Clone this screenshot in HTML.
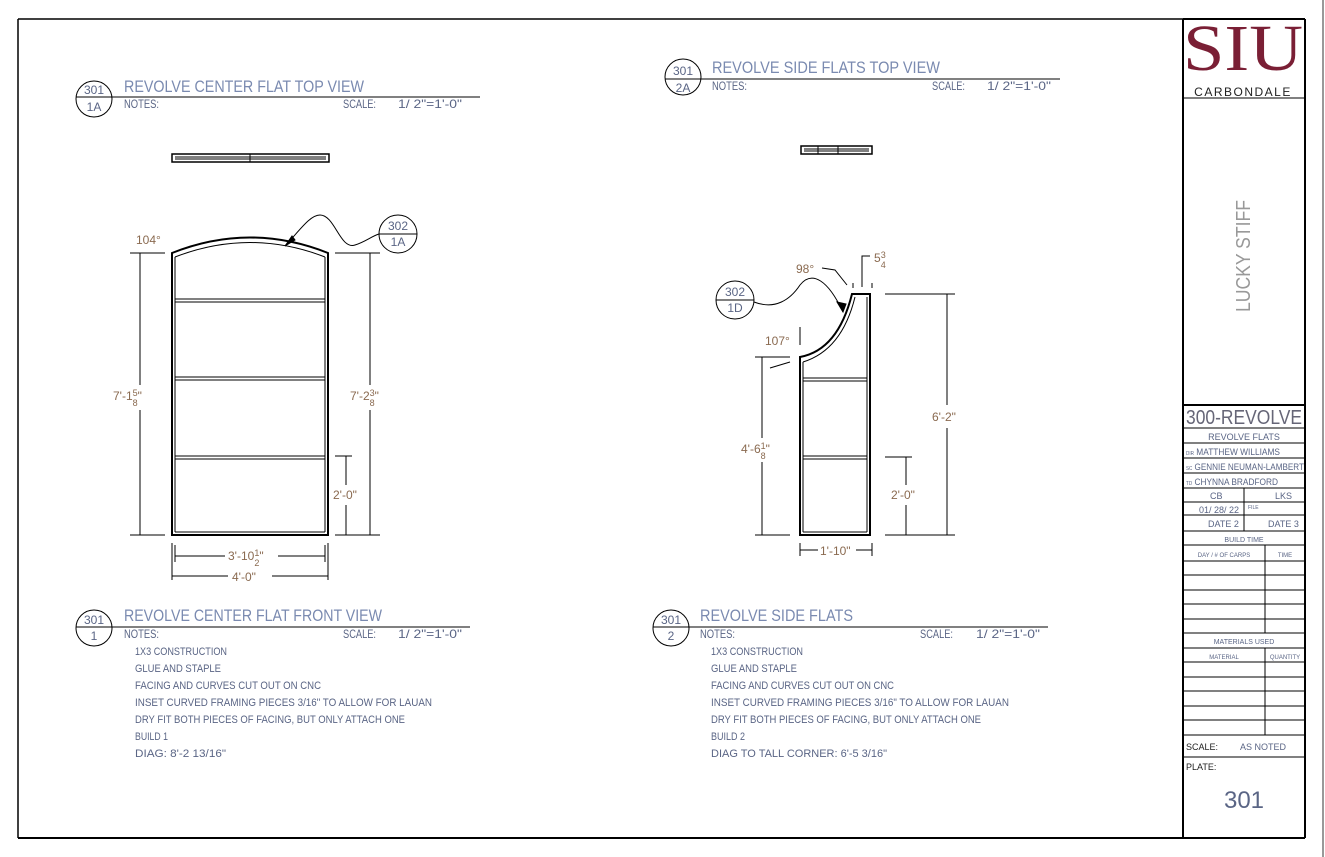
<!DOCTYPE html>
<html><head><meta charset="utf-8"><style>
html,body{margin:0;padding:0;background:#fff;width:1325px;height:857px;overflow:hidden}
svg{display:block}
.t{font-family:"Liberation Sans",sans-serif;fill:#5a6585}
.d{font-family:"Liberation Sans",sans-serif;fill:#8a6a50}
.k{font-family:"Liberation Sans",sans-serif;fill:#222}
</style></head><body>
<svg width="1325" height="857" viewBox="0 0 1325 857">
<g fill="none" stroke="#000">
<line x1="18" y1="19" x2="1183" y2="19" stroke-width="1.5"/>
<line x1="18" y1="19" x2="18" y2="838" stroke-width="1.5"/>
<line x1="18" y1="838" x2="1305" y2="838" stroke-width="2"/>
<line x1="1183" y1="19" x2="1183" y2="838" stroke-width="2"/>
<line x1="1305" y1="19" x2="1305" y2="838" stroke-width="2"/>
<line x1="1183" y1="19" x2="1305" y2="19" stroke-width="2"/>
<line x1="1323" y1="0" x2="1323" y2="857" stroke="#999" stroke-width="2"/>
<line x1="1183" y1="98" x2="1305" y2="98" stroke-width="1"/>
<line x1="1183" y1="405" x2="1305" y2="405" stroke-width="2"/>
</g>
<rect x="1184" y="20" width="120" height="77" fill="#fff"/>
<text x="1183" y="70" textLength="120" lengthAdjust="spacingAndGlyphs" style="font-family:'Liberation Serif',serif;font-size:66px;fill:#7a1f35">SIU</text>
<text x="1243" y="96" text-anchor="middle" class="k" style="font-size:12px;letter-spacing:1.5px">CARBONDALE</text>
<text transform="translate(1250,312) rotate(-90)" class="t" textLength="112" lengthAdjust="spacingAndGlyphs" style="font-size:20px;fill:#999">LUCKY STIFF</text>
<g stroke="#000" stroke-width="1" fill="none">
<line x1="1183" y1="428" x2="1305" y2="428"/>
<line x1="1183" y1="443" x2="1305" y2="443"/>
<line x1="1183" y1="458" x2="1305" y2="458"/>
<line x1="1183" y1="473" x2="1305" y2="473"/>
<line x1="1183" y1="488" x2="1305" y2="488"/>
<line x1="1183" y1="502" x2="1305" y2="502"/>
<line x1="1183" y1="515" x2="1305" y2="515"/>
<line x1="1183" y1="531" x2="1305" y2="531"/>
<line x1="1183" y1="545" x2="1305" y2="545"/>
<line x1="1183" y1="561" x2="1305" y2="561"/>
<line x1="1183" y1="575" x2="1305" y2="575"/>
<line x1="1183" y1="590" x2="1305" y2="590"/>
<line x1="1183" y1="604" x2="1305" y2="604"/>
<line x1="1183" y1="619" x2="1305" y2="619"/>
<line x1="1183" y1="633" x2="1305" y2="633"/>
<line x1="1183" y1="648" x2="1305" y2="648"/>
<line x1="1183" y1="662" x2="1305" y2="662"/>
<line x1="1183" y1="677" x2="1305" y2="677"/>
<line x1="1183" y1="691" x2="1305" y2="691"/>
<line x1="1183" y1="706" x2="1305" y2="706"/>
<line x1="1183" y1="720" x2="1305" y2="720"/>
<line x1="1183" y1="735" x2="1305" y2="735"/>
<line x1="1183" y1="757" x2="1305" y2="757"/>
<line x1="1244" y1="488" x2="1244" y2="531"/>
<line x1="1265" y1="545" x2="1265" y2="633"/>
<line x1="1265" y1="648" x2="1265" y2="735"/>
</g>
<g class="t" style="font-size:10px">
<text x="1186" y="424" textLength="116" lengthAdjust="spacingAndGlyphs" style="font-size:20px;fill:#667">300-REVOLVE</text>
<text x="1244" y="440" text-anchor="middle" style="font-size:9px">REVOLVE FLATS</text>
<text x="1186" y="455" textLength="94" lengthAdjust="spacingAndGlyphs" style="font-size:9px"><tspan style="font-size:5px">DIR</tspan> MATTHEW WILLIAMS</text>
<text x="1186" y="470" textLength="118" lengthAdjust="spacingAndGlyphs" style="font-size:9px"><tspan style="font-size:5px">SC</tspan> GENNIE NEUMAN-LAMBERT</text>
<text x="1186" y="485" textLength="92" lengthAdjust="spacingAndGlyphs" style="font-size:9px"><tspan style="font-size:5px">TD</tspan> CHYNNA BRADFORD</text>
<text x="1210" y="499" style="font-size:9px">CB</text><text x="1275" y="499" style="font-size:9px">LKS</text>
<text x="1199" y="513" style="font-size:9px">01/ 28/ 22</text><text x="1248" y="509" style="font-size:5px">FILE</text>
<text x="1208" y="527" style="font-size:9px">DATE 2</text><text x="1268" y="527" style="font-size:9px">DATE 3</text>
<text x="1244" y="542" text-anchor="middle" style="font-size:7px">BUILD TIME</text>
<text x="1224" y="557" text-anchor="middle" style="font-size:6px">DAY / # OF CARPS</text>
<text x="1285" y="557" text-anchor="middle" style="font-size:6px">TIME</text>
<text x="1244" y="644" text-anchor="middle" style="font-size:7px">MATERIALS USED</text>
<text x="1224" y="659" text-anchor="middle" style="font-size:6px">MATERIAL</text>
<text x="1285" y="659" text-anchor="middle" style="font-size:6px">QUANTITY</text>
<text x="1186" y="750" class="k" style="font-size:9px">SCALE:</text>
<text x="1240" y="750" style="font-size:9px">AS NOTED</text>
<text x="1186" y="770" class="k" style="font-size:9px">PLATE:</text>
<text x="1244" y="808" text-anchor="middle" style="font-size:24px">301</text>
</g>

<g fill="none" stroke="#000" stroke-width="1">
<circle cx="94" cy="99" r="18"/><line x1="76" y1="97" x2="480" y2="97"/>
<circle cx="683" cy="77" r="18"/><line x1="665" y1="79" x2="1060" y2="79"/>
<circle cx="94" cy="628" r="18"/><line x1="76" y1="627" x2="470" y2="627"/>
<circle cx="671" cy="628" r="18"/><line x1="653" y1="627" x2="1048" y2="627"/>
<circle cx="398" cy="234" r="19"/><line x1="379" y1="234" x2="417" y2="234"/>
<circle cx="735" cy="300" r="19"/><line x1="716" y1="300" x2="754" y2="300"/>
</g>
<g class="t" style="font-size:12px">
<text x="94" y="94" text-anchor="middle">301</text><text x="94" y="111" text-anchor="middle">1A</text>
<text x="683" y="75" text-anchor="middle">301</text><text x="683" y="92" text-anchor="middle">2A</text>
<text x="94" y="624" text-anchor="middle">301</text><text x="94" y="640" text-anchor="middle">1</text>
<text x="671" y="624" text-anchor="middle">301</text><text x="671" y="640" text-anchor="middle">2</text>
<text x="398" y="230" text-anchor="middle">302</text><text x="398" y="246" text-anchor="middle">1A</text>
<text x="735" y="296" text-anchor="middle">302</text><text x="735" y="312" text-anchor="middle">1D</text>
<text x="124" y="92" textLength="240" lengthAdjust="spacingAndGlyphs" style="font-size:17px;fill:#7a8ab0">REVOLVE CENTER FLAT TOP VIEW</text>
<text x="124" y="108" textLength="35" lengthAdjust="spacingAndGlyphs">NOTES:</text><text x="343" y="108" textLength="33" lengthAdjust="spacingAndGlyphs">SCALE:</text><text x="398" y="108" textLength="64" lengthAdjust="spacingAndGlyphs">1/ 2"=1'-0"</text>
<text x="712" y="73" textLength="228" lengthAdjust="spacingAndGlyphs" style="font-size:17px;fill:#7a8ab0">REVOLVE SIDE FLATS TOP VIEW</text>
<text x="712" y="90" textLength="35" lengthAdjust="spacingAndGlyphs">NOTES:</text><text x="932" y="90" textLength="33" lengthAdjust="spacingAndGlyphs">SCALE:</text><text x="987" y="90" textLength="64" lengthAdjust="spacingAndGlyphs">1/ 2"=1'-0"</text>
<text x="124" y="621" textLength="258" lengthAdjust="spacingAndGlyphs" style="font-size:17px;fill:#7a8ab0">REVOLVE CENTER FLAT FRONT VIEW</text>
<text x="124" y="638" textLength="35" lengthAdjust="spacingAndGlyphs">NOTES:</text><text x="343" y="638" textLength="33" lengthAdjust="spacingAndGlyphs">SCALE:</text><text x="398" y="638" textLength="64" lengthAdjust="spacingAndGlyphs">1/ 2"=1'-0"</text>
<text x="700" y="621" textLength="153" lengthAdjust="spacingAndGlyphs" style="font-size:17px;fill:#7a8ab0">REVOLVE SIDE FLATS</text>
<text x="700" y="638" textLength="35" lengthAdjust="spacingAndGlyphs">NOTES:</text><text x="920" y="638" textLength="33" lengthAdjust="spacingAndGlyphs">SCALE:</text><text x="976" y="638" textLength="64" lengthAdjust="spacingAndGlyphs">1/ 2"=1'-0"</text>
</g>
<g class="t" style="font-size:11px">
<text x="135" y="655" textLength="92" lengthAdjust="spacingAndGlyphs">1X3 CONSTRUCTION</text><text x="135" y="672" textLength="86" lengthAdjust="spacingAndGlyphs">GLUE AND STAPLE</text>
<text x="135" y="689" textLength="186" lengthAdjust="spacingAndGlyphs">FACING AND CURVES CUT OUT ON CNC</text>
<text x="135" y="706" textLength="297" lengthAdjust="spacingAndGlyphs">INSET CURVED FRAMING PIECES 3/16" TO ALLOW FOR LAUAN</text>
<text x="135" y="723" textLength="270" lengthAdjust="spacingAndGlyphs">DRY FIT BOTH PIECES OF FACING, BUT ONLY ATTACH ONE</text>
<text x="135" y="740" textLength="33" lengthAdjust="spacingAndGlyphs">BUILD 1</text><text x="135" y="757" textLength="91" lengthAdjust="spacingAndGlyphs">DIAG: 8'-2 13/16"</text>
<text x="711" y="655" textLength="92" lengthAdjust="spacingAndGlyphs">1X3 CONSTRUCTION</text><text x="711" y="672" textLength="86" lengthAdjust="spacingAndGlyphs">GLUE AND STAPLE</text>
<text x="711" y="689" textLength="183" lengthAdjust="spacingAndGlyphs">FACING AND CURVES CUT OUT ON CNC</text>
<text x="711" y="706" textLength="298" lengthAdjust="spacingAndGlyphs">INSET CURVED FRAMING PIECES 3/16" TO ALLOW FOR LAUAN</text>
<text x="711" y="723" textLength="270" lengthAdjust="spacingAndGlyphs">DRY FIT BOTH PIECES OF FACING, BUT ONLY ATTACH ONE</text>
<text x="711" y="740" textLength="34" lengthAdjust="spacingAndGlyphs">BUILD 2</text><text x="711" y="757" textLength="176" lengthAdjust="spacingAndGlyphs">DIAG TO TALL CORNER: 6'-5 3/16"</text>
</g>

<g fill="none" stroke="#000" stroke-width="1">
<rect x="172" y="154" width="157" height="8" stroke-width="1.5"/>
<line x1="175" y1="157" x2="326" y2="157"/><line x1="175" y1="159" x2="326" y2="159"/>
<line x1="250" y1="154" x2="250" y2="162"/>
<rect x="801" y="146" width="71" height="8" stroke-width="1.5"/>
<line x1="804" y1="149" x2="869" y2="149"/><line x1="804" y1="151" x2="869" y2="151"/>
<line x1="818" y1="146" x2="818" y2="154"/><line x1="838" y1="146" x2="838" y2="154"/>
</g>

<g fill="none" stroke="#000" stroke-width="1">
<path d="M172 535 V253 Q250 222 328 253 V535 Z" stroke-width="2"/>
<path d="M175 257 Q250 228 325 257"/>
<line x1="175" y1="257" x2="175" y2="532"/><line x1="325" y1="257" x2="325" y2="532"/>
<rect x="175" y="299" width="150" height="3"/><rect x="175" y="377" width="150" height="3"/><rect x="175" y="456" width="150" height="3"/>
<line x1="175" y1="532" x2="325" y2="532"/>
<line x1="130" y1="253" x2="165" y2="253"/><line x1="130" y1="535" x2="165" y2="535"/>
<line x1="140" y1="253" x2="140" y2="385"/><line x1="140" y1="410" x2="140" y2="535"/>
<line x1="335" y1="253" x2="380" y2="253"/><line x1="335" y1="535" x2="380" y2="535"/>
<line x1="370" y1="253" x2="370" y2="385"/><line x1="370" y1="410" x2="370" y2="535"/>
<line x1="335" y1="456" x2="352" y2="456"/><line x1="346" y1="456" x2="346" y2="485"/><line x1="346" y1="505" x2="346" y2="535"/>
<line x1="172" y1="543" x2="172" y2="580"/><line x1="328" y1="543" x2="328" y2="580"/>
<line x1="175" y1="545" x2="175" y2="562"/><line x1="325" y1="545" x2="325" y2="562"/>
<line x1="175" y1="556" x2="225" y2="556"/><line x1="278" y1="556" x2="325" y2="556"/>
<line x1="172" y1="576" x2="228" y2="576"/><line x1="272" y1="576" x2="328" y2="576"/>
<path d="M285 246 C300 230 310 215 320 215 C335 215 340 250 355 245 C365 242 372 236 379 234"/>
<path d="M285 246 L292 236 L295 240 Z" fill="#000"/>
</g>
<g class="d" style="font-size:12px">
<text x="136" y="244">104°</text>
<text x="113" y="400">7'-1<tspan style="font-size:9px" dy="-4">5</tspan><tspan style="font-size:9px" dx="-5" dy="10">8</tspan><tspan dy="-6">"</tspan></text>
<text x="350" y="400">7'-2<tspan style="font-size:9px" dy="-4">3</tspan><tspan style="font-size:9px" dx="-5" dy="10">8</tspan><tspan dy="-6">"</tspan></text>
<text x="333" y="499">2'-0"</text>
<text x="228" y="560">3'-10<tspan style="font-size:9px" dy="-4">1</tspan><tspan style="font-size:9px" dx="-5" dy="10">2</tspan><tspan dy="-6">"</tspan></text>
<text x="232" y="581">4'-0"</text>
</g>

<g fill="none" stroke="#000" stroke-width="1">
<path d="M800 535 V357 Q838 350 852 294 H870 V535 Z" stroke-width="2"/>
<path d="M803 362 Q842 350 855 297"/>
<line x1="803" y1="362" x2="803" y2="532"/><line x1="867" y1="297" x2="867" y2="532"/>
<rect x="803" y="378" width="64" height="3"/><rect x="803" y="456" width="64" height="3"/>
<line x1="803" y1="532" x2="867" y2="532"/>
<line x1="755" y1="357" x2="790" y2="357"/><line x1="755" y1="535" x2="790" y2="535"/>
<line x1="762" y1="357" x2="762" y2="438"/><line x1="762" y1="462" x2="762" y2="535"/>
<line x1="885" y1="294" x2="955" y2="294"/><line x1="885" y1="535" x2="955" y2="535"/>
<line x1="947" y1="294" x2="947" y2="405"/><line x1="947" y1="428" x2="947" y2="535"/>
<line x1="885" y1="457" x2="912" y2="457"/><line x1="906" y1="457" x2="906" y2="485"/><line x1="906" y1="505" x2="906" y2="535"/>
<line x1="800" y1="543" x2="800" y2="556"/><line x1="872" y1="543" x2="872" y2="556"/>
<line x1="800" y1="550" x2="818" y2="550"/><line x1="856" y1="550" x2="872" y2="550"/>
<path d="M862 287 V256 H870"/><line x1="853" y1="283" x2="853" y2="288"/><line x1="872" y1="283" x2="872" y2="288"/>
<path d="M822 268 L835 270 L847 285"/>
<path d="M754 302 C775 310 790 300 800 285 C812 270 828 280 843 312"/>
<path d="M843 312 L837 302 L846 304 Z" fill="#000"/>
<line x1="800" y1="327" x2="800" y2="345"/>
<line x1="770" y1="368" x2="790" y2="362"/>
</g>
<g class="d" style="font-size:12px">
<text x="796" y="273">98°</text>
<text x="874" y="262">5<tspan style="font-size:9px" dy="-4">3</tspan><tspan style="font-size:9px" dx="-5" dy="10">4</tspan></text>
<text x="765" y="345">107°</text>
<text x="741" y="453">4'-6<tspan style="font-size:9px" dy="-4">1</tspan><tspan style="font-size:9px" dx="-5" dy="10">8</tspan><tspan dy="-6">"</tspan></text>
<text x="932" y="421">6'-2"</text>
<text x="891" y="499">2'-0"</text>
<text x="820" y="555">1'-10"</text>
</g>
</svg>
</body></html>
